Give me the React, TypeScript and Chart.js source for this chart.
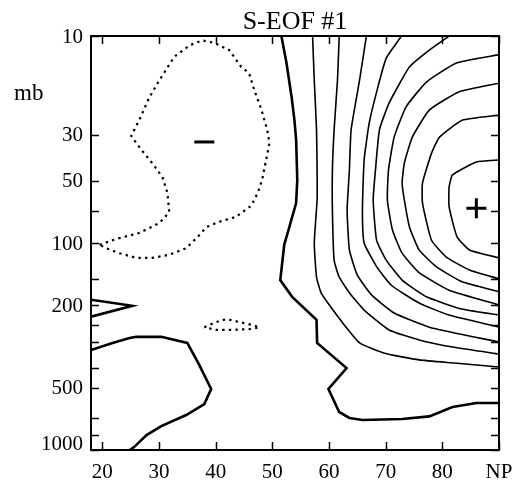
import React, { useEffect, useRef } from "react";
import { Chart, registerables } from "chart.js";

Chart.register(...registerables);

// ---- text / ticks ----
const chartTitle = "S-EOF #1";
const yAxisTitle = "mb";
const xTickValues = [20, 30, 40, 50, 60, 70, 80, 90];
const xTickLabels = ["20", "30", "40", "50", "60", "70", "80", "NP"];
const yMajorTicks = [10, 30, 50, 100, 200, 500, 1000];
const yMinorTicks = [70, 150, 250, 300, 400, 700, 850];

// ---- contours: [latitude, pressure (mb)] ----
// negative (dotted) contours
const negLoopLarge: [number, number][] = [
  [19.5, 102], [22.5, 95.5], [26.5, 89.5], [30.1, 80], [31.8, 71], [31.5, 57.4],
  [30.6, 48], [28.8, 41.1], [26.9, 35.5], [25.1, 30.4], [26.5, 25.5], [28.3, 19.8],
  [30.1, 16.3], [32.7, 12.6], [35.4, 11.1], [37.6, 10.5], [39.8, 10.8], [42.4, 11.7],
  [44.5, 14.1], [45.9, 15.1], [46.8, 18.2], [48.1, 22.8], [49.1, 28.4], [49.5, 32.9],
  [48.9, 39.7], [48.2, 49.6], [47.4, 57.4], [46.3, 66], [43.6, 74.7], [40.6, 79],
  [38.4, 83.7], [36.8, 93.5], [34.8, 106], [31.8, 114], [28.8, 118], [26.0, 118],
  [23.0, 112], [20.7, 106], [19.5, 102],
];
const negLoopSmall: [number, number][] = [
  [38.0, 255], [40.1, 241], [41.9, 233], [44.2, 241], [46.5, 249], [47.7, 255],
  [46.5, 260], [42.9, 263], [40.1, 263], [38.0, 255],
];

// zero / thick contours
const zeroMain: [number, number][] = [
  [51.6, 10], [52.5, 13.5], [53.4, 19.7], [53.9, 25.5], [54.2, 31.8], [54.4, 49.6],
  [54.2, 64.1], [53.0, 83.7], [52.1, 102], [51.4, 151], [53.5, 182], [57.8, 235],
  [57.9, 304], [63.1, 402], [59.9, 507], [61.8, 655], [63.6, 700], [65.9, 716],
  [72.9, 708], [77.7, 688], [81.8, 620], [86.0, 593], [90, 593],
];
const zeroWedge: [number, number][] = [[18, 188], [25.3, 201], [18, 227]];
const zeroLowLoop: [number, number][] = [
  [18, 329], [21.8, 304], [24.8, 288], [26.0, 284], [30.4, 284], [35.0, 304],
  [37.1, 388], [39.2, 507], [38.0, 600], [34.8, 678], [30.4, 766], [27.8, 847],
  [25.6, 968], [24.4, 1018],
];

// positive (thin solid) contours
const posB: [number, number][] = [
  [57.1, 10], [57.4, 16.3], [57.8, 28.4], [57.9, 44.4], [57.9, 62], [57.4, 100],
  [57.8, 146], [58.6, 174], [60.1, 200], [62.7, 249], [65.4, 304], [69.8, 341],
  [75.9, 367], [82.1, 380], [90, 397],
];
const posC: [number, number][] = [
  [61.8, 10], [61.5, 16.3], [60.9, 28.4], [60.6, 44.4], [60.6, 69.3], [60.9, 121],
  [61.8, 146], [63.6, 174], [66.2, 211], [70.6, 263], [75.9, 294], [82.1, 319], [90, 344],
];
const posD: [number, number][] = [
  [66.6, 10], [65.4, 16.3], [63.9, 28.4], [63.6, 44.4], [63.2, 69.3], [63.6, 108],
  [65.0, 143], [67.5, 178], [71.5, 218], [77.7, 255], [90, 301],
];
const posE: [number, number][] = [
  [72.8, 10], [70.1, 12.8], [68.5, 18.2], [67.1, 26.3], [66.2, 39.7], [65.9, 69.3],
  [66.2, 100], [68.4, 130], [71.0, 160], [75.9, 195], [81.2, 223], [90, 255],
];
const posF: [number, number][] = [
  [81.2, 10], [77.7, 11.7], [74.2, 14.1], [70.6, 21.1], [68.9, 28.4], [68.2, 44.4],
  [67.8, 62], [68.4, 97], [70.1, 121], [72.9, 151], [77.2, 182], [83.0, 207], [90, 223],
];
const posG: [number, number][] = [
  [90, 12.3], [82.5, 13.5], [77.2, 16.7], [73.6, 22.0], [71.5, 30.8], [70.5, 44.4],
  [70.3, 62], [71.2, 86.5], [72.9, 112], [75.9, 139], [81.2, 169], [90, 199],
];
const posH: [number, number][] = [
  [90, 16.9], [83.0, 18.6], [77.7, 22.8], [74.7, 30.8], [73.3, 41.1], [72.9, 51.3],
  [73.3, 62], [74.2, 83.7], [75.9, 108], [78.9, 130], [83.5, 154], [90, 172],
];
const posI: [number, number][] = [
  [90, 24.1], [83.5, 25.5], [79.5, 30.8], [78.1, 36.8], [76.5, 51.3], [76.5, 64.1],
  [78.1, 97], [80.7, 117], [84.8, 135], [90, 149],
];
const posJ: [number, number][] = [
  [90, 39.7], [86.0, 40.6], [81.8, 46.9], [81.2, 53.6], [81.2, 67.0], [82.6, 93.5],
  [84.8, 108], [90, 118],
];

// centre markers
const minusCentre: [number, number] = [38, 32.5];
const plusCentre: [number, number] = [86, 68];

const toXY = (pts: [number, number][]) => pts.map(([x, y]) => ({ x, y }));

const FONT = "'Liberation Serif', 'Times New Roman', serif";

const frameTicksPlugin = {
  id: "frameTicks",
  afterDraw(chart: any) {
    const { ctx, chartArea: a, scales } = chart;
    const xs = scales.x;
    const ys = scales.y;
    ctx.save();
    ctx.strokeStyle = "#000";
    ctx.fillStyle = "#000";
    ctx.lineWidth = 2;
    ctx.strokeRect(a.left, a.top, a.right - a.left, a.bottom - a.top);

    const tl = 8;
    ctx.lineWidth = 1.5;
    ctx.beginPath();
    for (const v of xTickValues) {
      const px = Math.round(xs.getPixelForValue(v)) + 0.5;
      ctx.moveTo(px, a.bottom);
      ctx.lineTo(px, a.bottom - tl);
      ctx.moveTo(px, a.top);
      ctx.lineTo(px, a.top + tl);
    }
    for (const v of [...yMajorTicks, ...yMinorTicks]) {
      const py = Math.round(ys.getPixelForValue(v)) + 0.5;
      ctx.moveTo(a.left, py);
      ctx.lineTo(a.left + tl, py);
      ctx.moveTo(a.right, py);
      ctx.lineTo(a.right - tl, py);
    }
    ctx.stroke();

    ctx.font = `21px ${FONT}`;
    ctx.textAlign = "center";
    ctx.textBaseline = "middle";
    xTickValues.forEach((v, i) => {
      ctx.fillText(xTickLabels[i], xs.getPixelForValue(v), a.bottom + 22);
    });
    ctx.textAlign = "right";
    yMajorTicks.forEach((v) => {
      const py = Math.min(ys.getPixelForValue(v), a.bottom - 7);
      ctx.fillText(String(v), a.left - 8, py + 1);
    });

    ctx.textBaseline = "alphabetic";
    ctx.textAlign = "center";
    ctx.font = `26px ${FONT}`;
    ctx.fillText(chartTitle, (a.left + a.right) / 2, 29);
    ctx.textAlign = "left";
    ctx.font = `23px ${FONT}`;
    ctx.fillText(yAxisTitle, 14, 100);
    ctx.restore();
  },
};

export default function App() {
  const canvasRef = useRef<HTMLCanvasElement | null>(null);

  useEffect(() => {
    if (!canvasRef.current) return;
    const solidThick = (pts: [number, number][]) => ({
      data: toXY(pts),
      showLine: true,
      borderColor: "#000",
      borderWidth: 2.6,
      pointRadius: 0,
      tension: 0,
    });
    const solidThin = (pts: [number, number][]) => ({
      data: toXY(pts),
      showLine: true,
      borderColor: "#000",
      borderWidth: 1.6,
      pointRadius: 0,
      tension: 0.15,
    });
    const dotted = (pts: [number, number][]) => ({
      data: toXY(pts),
      showLine: true,
      borderColor: "#000",
      borderWidth: 2.2,
      borderDash: [2.4, 4.2],
      pointRadius: 0,
      tension: 0,
    });

    const chart = new Chart(canvasRef.current, {
      type: "scatter",
      data: {
        datasets: [
          dotted(negLoopLarge),
          dotted(negLoopSmall),
          solidThick(zeroMain),
          solidThick(zeroWedge),
          solidThick(zeroLowLoop),
          solidThin(posB),
          solidThin(posC),
          solidThin(posD),
          solidThin(posE),
          solidThin(posF),
          solidThin(posG),
          solidThin(posH),
          solidThin(posI),
          solidThin(posJ),
          {
            data: [{ x: minusCentre[0], y: minusCentre[1] }],
            showLine: false,
            pointStyle: "line",
            pointRadius: 10,
            borderColor: "#000",
            borderWidth: 3,
          } as any,
          {
            data: [{ x: plusCentre[0], y: plusCentre[1] }],
            showLine: false,
            pointStyle: "cross",
            pointRadius: 10,
            borderColor: "#000",
            borderWidth: 3,
          } as any,
        ],
      },
      options: {
        animation: false,
        responsive: false,
        events: [],
        layout: { padding: { left: 91, top: 36, right: 19, bottom: 33 } },
        plugins: { legend: { display: false }, tooltip: { enabled: false } },
        scales: {
          x: { type: "linear", min: 18, max: 90, display: false },
          y: { type: "logarithmic", min: 10, max: 1000, reverse: true, display: false },
        },
      },
      plugins: [frameTicksPlugin],
    } as any);
    return () => chart.destroy();
  }, []);

  return (
    <div style={{ position: "absolute", left: 0, top: 0, width: 518, height: 483, background: "#fff" }}>
      <canvas ref={canvasRef} width={518} height={483} style={{ display: "block" }} />
    </div>
  );
}
